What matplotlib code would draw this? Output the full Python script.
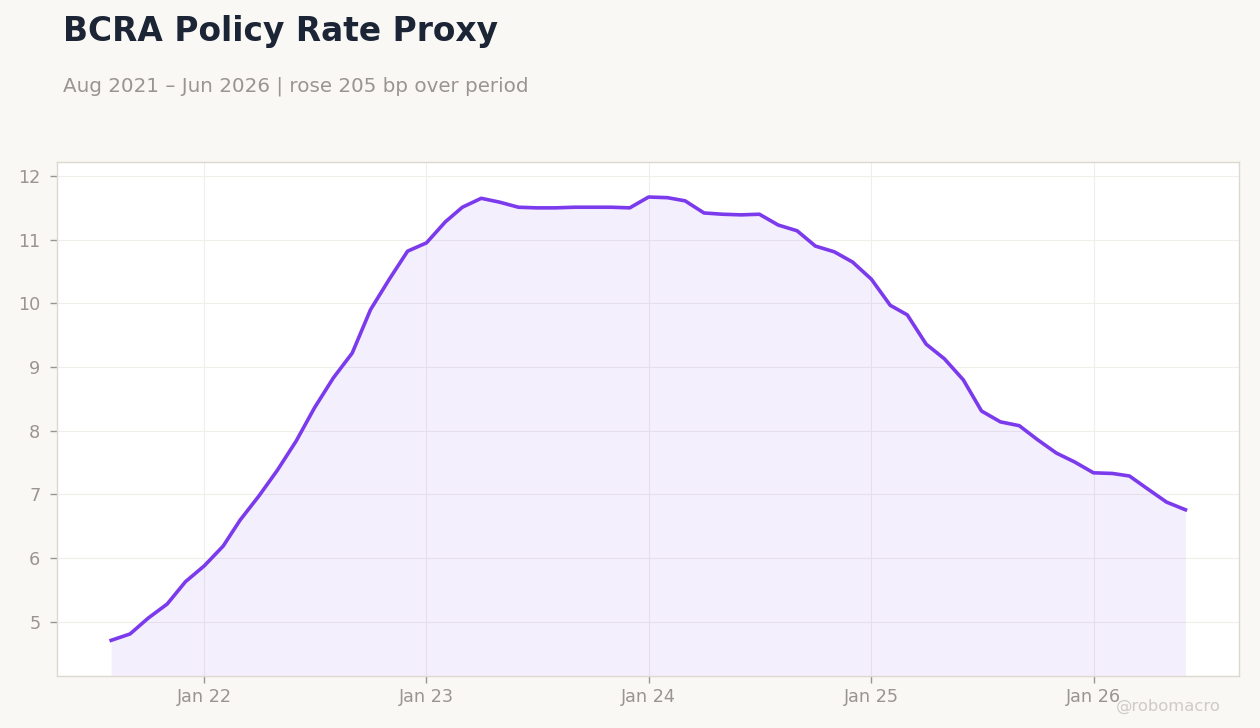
import numpy as np
import pandas as pd
import matplotlib
matplotlib.use("Agg")
import matplotlib.pyplot as plt
import matplotlib.dates as mdates

plt.rcParams["font.family"] = ["DejaVu Sans"]

# monthly proxy values, Aug 2021 - Jun 2026
dates = pd.date_range("2021-08-01", "2026-06-01", freq="MS")
rate = [
    4.71, 4.81, 5.06, 5.28, 5.63,                                           # 2021
    5.88, 6.19, 6.60, 6.98, 7.38, 7.84, 8.36, 8.83, 9.22, 9.90, 10.38, 10.82,  # 2022
    10.95, 11.28, 11.51, 11.65, 11.59, 11.51, 11.50, 11.50, 11.51, 11.51, 11.51, 11.50,  # 2023
    11.67, 11.66, 11.61, 11.42, 11.40, 11.39, 11.40, 11.23, 11.14, 10.90, 10.81, 10.65,  # 2024
    10.38, 9.97, 9.82, 9.36, 9.13, 8.80, 8.31, 8.14, 8.08, 7.86, 7.65, 7.51,  # 2025
    7.34, 7.33, 7.29, 7.08, 6.88, 6.76,                                     # 2026
]

title = "BCRA Policy Rate Proxy"
subtitle = "Aug 2021 \u2013 Jun 2026 | rose 205 bp over period"

bg = "#f9f8f5"
line_col = "#7c3aed"
grey = "#9a9590"

fig = plt.figure(figsize=(12.6, 7.28), dpi=100, facecolor=bg)
ax = fig.add_axes([57 / 1260, 1 - 676 / 728, (1239 - 57) / 1260, (676 - 162) / 728])
ax.set_facecolor("white")

ax.fill_between(dates, rate, 4.15, color=line_col, alpha=0.08, linewidth=0)
ax.plot(dates, rate, color=line_col, linewidth=2.6, solid_joinstyle="round")

ax.set_ylim(4.15, 12.22)
ax.set_xlim(pd.Timestamp("2021-05-04"), pd.Timestamp("2026-08-28"))
ax.set_yticks(range(5, 13))

ax.xaxis.set_major_locator(mdates.YearLocator())
ax.xaxis.set_major_formatter(mdates.DateFormatter("%b %y"))

ax.grid(True, color="#f0eeeb", linewidth=0.8)
ax.set_axisbelow(True)
for s in ax.spines.values():
    s.set_color("#ddd8d0")
    s.set_linewidth(1)

ax.tick_params(axis="both", colors=grey, labelsize=12.7, length=5, width=1)
ax.tick_params(axis="x", pad=4)
ax.tick_params(axis="y", pad=7)

fig.text(63 / 1260, 1 - 41 / 728, title, fontsize=23.7, fontweight="bold", color="#1c2536")
fig.text(63 / 1260, 1 - 92 / 728, subtitle, fontsize=14.3, color=grey)
fig.text(1221 / 1260, 1 - 711 / 728, "@robomacro", fontsize=11.8, color="#cfcbc6", ha="right")

fig.savefig("out.png", dpi=100, facecolor=bg)
